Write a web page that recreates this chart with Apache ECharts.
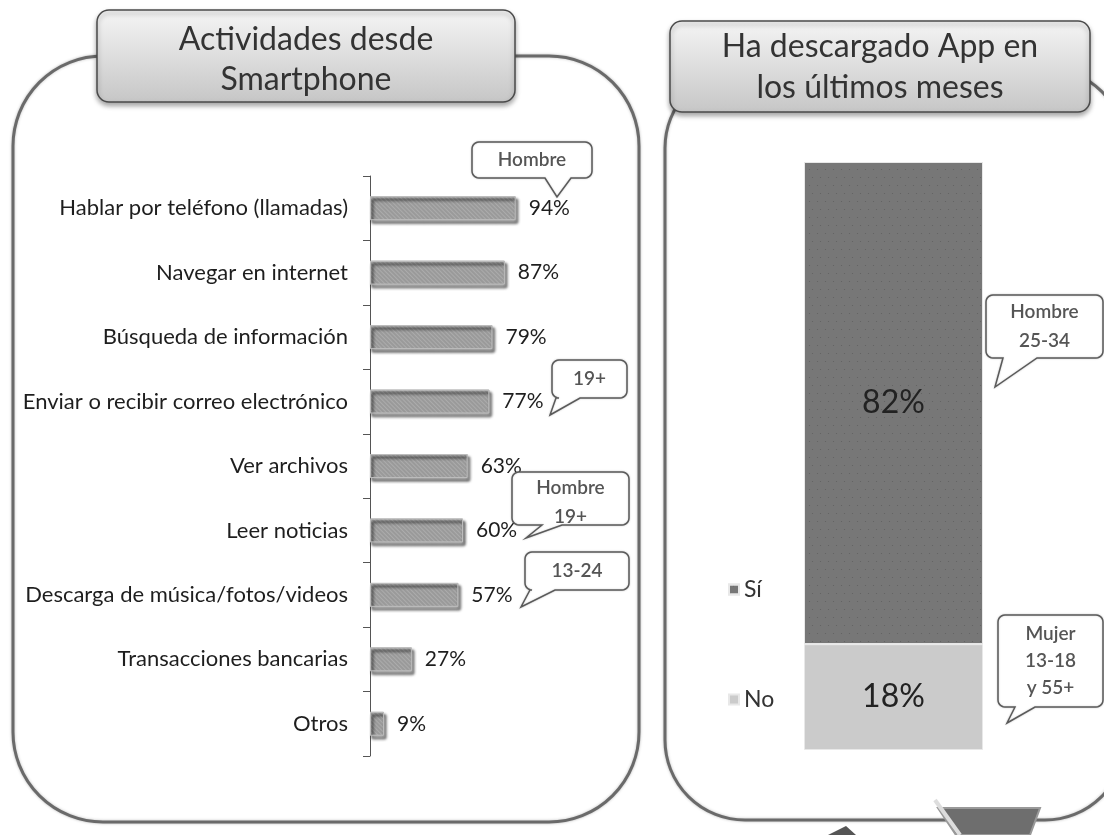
<!DOCTYPE html>
<html>
<head>
<meta charset="utf-8">
<script src="https://cdn.jsdelivr.net/npm/echarts@6/dist/echarts.min.js"></script>
<style>
    html, body { margin: 0; padding: 0; background: #fff; }
    #main { width: 1104px; height: 835px; }
</style>
</head>
<body>
<div id="main"></div>
<script>
    // left chart: activities
    var actividades = ['Hablar por teléfono (llamadas)', 'Navegar en internet', 'Búsqueda de información',
        'Enviar o recibir correo electrónico', 'Ver archivos', 'Leer noticias',
        'Descarga de música/fotos/videos', 'Transacciones bancarias', 'Otros'];
    var porcentajes = [94, 87, 79, 77, 63, 60, 57, 27, 9];

    // right chart: app download
    var respuestas = ['Sí', 'No'];
    var descargaSi = [82];
    var descargaNo = [18];

    var tituloIzq = ['Actividades desde', 'Smartphone'];
    var tituloDer = ['Ha descargado App en', 'los últimos meses'];
    var notas = [['Hombre'], ['19+'], ['Hombre', '19+'], ['13-24'], ['Hombre', '25-34'], ['Mujer', '13-18', 'y 55+']];

    var FONT = 'Lato, "Open Sans", sans-serif';

    // callout boxes: x, y, w, h, pointer base from/to, tip, text shift
    var cajas = [
        [472, 142, 120, 36, 545, 571, 557, 197, 0],
        [552, 360, 75, 38, 556, 580, 550, 415, 0],
        [512, 472, 117, 53, 542, 562, 526, 538, 4],
        [525, 552, 104, 38, 530, 555, 521, 607, 0],
        [986, 295, 117, 63, 1003, 1037, 995, 387, 0],
        [998, 615, 105, 92, 1015, 1035, 1007, 723, 0]
    ];

    // rounded box with a pointer on the bottom edge, as polygon points
    function bocadillo(x, y, w, h, b1, b2, tx, ty) {
        var r = 7, pts = [];
        function esquina(cx, cy, a0) {
            for (var k = 0; k <= 6; k++) {
                var a = (a0 + k * 15) * Math.PI / 180;
                pts.push([cx + r * Math.cos(a), cy + r * Math.sin(a)]);
            }
        }
        esquina(x + r, y + r, 180);
        esquina(x + w - r, y + r, 270);
        esquina(x + w - r, y + h - r, 0);
        pts.push([b2, y + h], [tx, ty], [b1, y + h]);
        esquina(x + r, y + h - r, 90);
        return pts;
    }

    var graficos = [];
    // panels
    graficos.push({
        type: 'rect', z: 0,
        shape: {x: 13, y: 56, width: 626, height: 766, r: 90},
        style: {fill: '#fff', stroke: '#6a6a6a', lineWidth: 3, shadowBlur: 3, shadowColor: 'rgba(0,0,0,0.25)'}
    });
    graficos.push({
        type: 'rect', z: 0,
        shape: {x: 665, y: 68, width: 460, height: 752, r: 80},
        style: {fill: '#fff', stroke: '#6a6a6a', lineWidth: 3, shadowBlur: 3, shadowColor: 'rgba(0,0,0,0.25)'}
    });
    // bottom decoration (edge of a phone picture)
    graficos.push({
        type: 'polygon', z: 1,
        shape: {points: [[828, 835], [846, 826], [856, 835]]},
        style: {fill: '#555'}
    });
    graficos.push({
        type: 'polygon', z: 1,
        shape: {points: [[938, 808], [1040, 808], [1030, 835], [956, 835]]},
        style: {fill: '#6e6e6e', stroke: '#999', lineWidth: 2}
    });
    graficos.push({
        type: 'line', z: 1,
        shape: {x1: 935, y1: 800, x2: 960, y2: 835},
        style: {stroke: '#ddd', lineWidth: 4}
    });

    function cajaTitulo(x, y, w, h, lineas, cx, ys) {
        graficos.push({
            type: 'rect', z: 5,
            shape: {x: x, y: y, width: w, height: h, r: 12},
            style: {
                fill: new echarts.graphic.LinearGradient(0, 0, 0, 1, [
                    {offset: 0, color: '#f5f5f5'}, {offset: 1, color: '#c6c6c6'}
                ]),
                stroke: '#4a4a4a', lineWidth: 1.5,
                shadowBlur: 5, shadowOffsetY: 3, shadowColor: 'rgba(0,0,0,0.35)'
            }
        });
        lineas.forEach(function (t, i) {
            graficos.push({
                type: 'text', z: 6,
                style: {
                    x: cx, y: ys[i], text: t, align: 'center', verticalAlign: 'middle',
                    font: '32px ' + FONT, fill: '#333'
                }
            });
        });
    }
    cajaTitulo(97, 10, 418, 92, tituloIzq, 306, [40, 80]);
    cajaTitulo(670, 21, 420, 91, tituloDer, 880, [47, 88]);

    cajas.forEach(function (c, i) {
        graficos.push({
            type: 'polygon', z: 20,
            shape: {points: bocadillo(c[0], c[1], c[2], c[3], c[4], c[5], c[6], c[7])},
            style: {fill: '#fff', stroke: '#5a5a5a', lineWidth: 1.5, shadowBlur: 2, shadowColor: 'rgba(0,0,0,0.2)'}
        });
        var n = notas[i].length;
        var paso = n > 2 ? 27 : 29;
        notas[i].forEach(function (t, j) {
            graficos.push({
                type: 'text', z: 21,
                style: {
                    x: c[0] + c[2] / 2,
                    y: c[1] + c[3] / 2 + (j - (n - 1) / 2) * paso + c[8],
                    text: t, align: 'center', verticalAlign: 'middle',
                    font: '600 19px ' + FONT, fill: '#555'
                }
            });
        });
    });

    var chart = echarts.init(document.getElementById('main'));
    var option = {
        animation: false,
        textStyle: {fontFamily: FONT},
        graphic: graficos,
        legend: {
            data: respuestas,
            orient: 'vertical',
            left: 723, top: 573,
            itemGap: 87, itemWidth: 10, itemHeight: 10,
            icon: 'rect',
            textStyle: {fontSize: 23, color: '#333', fontFamily: FONT}
        },
        grid: [
            {left: 370, top: 176, width: 155, height: 580},
            {left: 804, top: 162, width: 179, height: 588}
        ],
        xAxis: [
            {type: 'value', gridIndex: 0, min: 0, max: 100, show: false},
            {type: 'category', gridIndex: 1, data: [''], show: false}
        ],
        yAxis: [
            {
                type: 'category', gridIndex: 0, data: actividades, inverse: true,
                axisLine: {show: true, lineStyle: {color: '#555', width: 1}},
                axisTick: {show: true, length: 7, lineStyle: {color: '#555'}},
                axisLabel: {margin: 22, fontSize: 22, color: '#1e1e1e', fontFamily: FONT}
            },
            {type: 'value', gridIndex: 1, min: 0, max: 100, show: false}
        ],
        series: [
            {
                type: 'bar', name: 'Actividades', xAxisIndex: 0, yAxisIndex: 0,
                data: porcentajes, barWidth: 24,
                itemStyle: {
                    color: '#a4a4a4', borderColor: '#bcbcbc', borderWidth: 1,
                    shadowBlur: 3, shadowOffsetX: 2, shadowOffsetY: 3, shadowColor: 'rgba(0,0,0,0.3)',
                    decal: {
                        symbol: 'rect', symbolSize: 1, color: 'rgba(255,255,255,0.18)',
                        dashArrayX: [1, 0], dashArrayY: [1, 2], rotation: Math.PI / 4
                    }
                },
                label: {show: true, position: 'right', distance: 13, formatter: '{c}%', fontSize: 21, color: '#1e1e1e'}
            },
            {
                type: 'bar', name: 'No', stack: 'app', xAxisIndex: 1, yAxisIndex: 1,
                data: descargaNo, barWidth: 179,
                itemStyle: {color: '#cbcbcb', borderColor: '#e8e8e8', borderWidth: 1},
                label: {show: true, position: 'inside', formatter: '{c}%', fontSize: 32, color: '#222'}
            },
            {
                type: 'bar', name: 'Sí', stack: 'app', xAxisIndex: 1, yAxisIndex: 1,
                data: descargaSi, barWidth: 179,
                itemStyle: {
                    color: '#777777', borderColor: '#e8e8e8', borderWidth: 1,
                    decal: {
                        symbol: 'circle', symbolSize: 0.4, color: 'rgba(0,0,0,0.18)',
                        dashArrayX: [[3, 5], [0, 3, 3, 2]], dashArrayY: [3, 5]
                    }
                },
                label: {show: true, position: 'inside', formatter: '{c}%', fontSize: 32, color: '#222'}
            }
        ]
    };
    chart.setOption(option);
</script>
</body>
</html>
